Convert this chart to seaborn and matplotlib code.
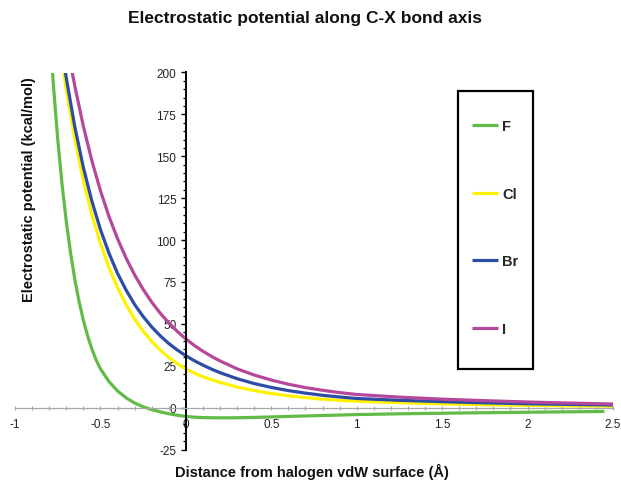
import numpy as np
import pandas as pd
import matplotlib
matplotlib.use("Agg")
import matplotlib.pyplot as plt
import matplotlib.patches as mpatches
from matplotlib.ticker import MultipleLocator, FuncFormatter
import seaborn as sns

# ---- data ----
halogens = ["F", "Cl", "Br", "I"]

x_F = [-0.79, -0.775, -0.75, -0.725, -0.7, -0.675, -0.65, -0.625, -0.6, -0.575, -0.55,
       -0.525, -0.5, -0.45, -0.4, -0.35, -0.3, -0.25, -0.2, -0.15, -0.1, -0.05, 0.0,
       0.05, 0.1, 0.15, 0.2, 0.25, 0.3, 0.4, 0.5, 0.6, 0.75, 1.0, 1.25, 1.5, 1.75,
       2.0, 2.25, 2.45]
v_F = [214, 192.2, 160.3, 133.6, 111.2, 92.4, 76.6, 63.3, 52.2, 42.9, 35.0,
       28.4, 23.2, 15.6, 10.0, 5.9, 2.8, 0.55, -1.15, -2.5, -3.6, -4.5, -5.2,
       -5.65, -5.9, -6.0, -6.05, -6.05, -6.0, -5.8, -5.5, -5.2, -4.8, -4.1, -3.65, -3.3, -3.0,
       -2.7, -2.45, -2.25]

x_Cl = [-0.72, -0.7, -0.65, -0.6, -0.55, -0.5, -0.45, -0.4, -0.35, -0.3, -0.25, -0.2,
        -0.15, -0.1, -0.05, 0.0, 0.05, 0.1, 0.15, 0.2, 0.3, 0.4, 0.5, 0.6, 0.7, 0.8,
        0.9, 1.0, 1.25, 1.5, 1.75, 2.0, 2.25, 2.5]
v_Cl = [203.6, 190.0, 160.3, 135.6, 115.1, 97.9, 83.6, 71.6, 61.5, 52.9, 45.7, 39.6,
        34.4, 30.0, 26.2, 23.0, 20.6, 18.5, 16.7, 15.1, 12.3, 10.2, 8.5, 7.1, 6.0, 5.1,
        4.4, 3.8, 3.0, 2.3, 1.75, 1.35, 1.1, 0.9]

x_Br = [-0.71, -0.7, -0.65, -0.6, -0.55, -0.5, -0.45, -0.4, -0.35, -0.3, -0.25, -0.2,
        -0.15, -0.1, -0.05, 0.0, 0.05, 0.1, 0.15, 0.2, 0.3, 0.4, 0.5, 0.6, 0.7, 0.8,
        0.9, 1.0, 1.25, 1.5, 1.75, 2.0, 2.25, 2.5]
v_Br = [203.3, 196.8, 167.6, 143.4, 123.2, 106.3, 92.2, 80.2, 70.2, 61.6, 54.4, 48.2,
        42.9, 38.3, 34.4, 31.0, 28.0, 25.4, 23.0, 20.9, 17.3, 14.4, 12.1, 10.2, 8.7, 7.4,
        6.4, 5.5, 4.4, 3.6, 2.9, 2.35, 1.95, 1.6]

x_I = [-0.67, -0.65, -0.6, -0.55, -0.5, -0.45, -0.4, -0.35, -0.3, -0.25, -0.2, -0.15,
       -0.1, -0.05, 0.0, 0.05, 0.1, 0.15, 0.2, 0.3, 0.4, 0.5, 0.6, 0.7, 0.8, 0.9, 1.0,
       1.25, 1.5, 1.75, 2.0, 2.25, 2.5]
v_I = [202.6, 192.0, 168.0, 147.3, 129.5, 114.1, 100.9, 89.3, 79.3, 70.6, 63.0, 56.4,
       50.6, 45.5, 41.0, 37.1, 33.7, 30.6, 27.9, 23.2, 19.5, 16.5, 14.0, 12.0, 10.4, 9.0, 7.9,
       6.3, 5.1, 4.2, 3.4, 2.75, 2.2]

y_ticks = [-25, 0, 25, 50, 75, 100, 125, 150, 175, 200]
x_ticks = [-1, -0.5, 0, 0.5, 1, 1.5, 2, 2.5]

title = "Electrostatic potential along C-X bond axis"
xlabel = "Distance from halogen vdW surface (Å)"
ylabel = "Electrostatic potential (kcal/mol)"

colors = {"F": "#62bb46", "Cl": "#fff200", "Br": "#2c4ca6", "I": "#b5489c"}

# ---- build long table ----
frames = []
for name, xs, vs in [("F", x_F, v_F), ("Cl", x_Cl, v_Cl), ("Br", x_Br, v_Br), ("I", x_I, v_I)]:
    frames.append(pd.DataFrame({"x": xs, "v": vs, "halogen": name}))
df = pd.concat(frames, ignore_index=True)

sns.set_theme(style="ticks")
plt.rcParams["font.family"] = ["Liberation Sans", "DejaVu Sans"]
plt.rcParams["axes.unicode_minus"] = False

W, H = 621, 481
fig = plt.figure(figsize=(W / 100, H / 100), dpi=100)
ax_left, ax_right = 15, 613
ax_top, ax_bot = 73.5, 450.6
ax = fig.add_axes([ax_left / W, 1 - ax_bot / H, (ax_right - ax_left) / W, (ax_bot - ax_top) / H])

sns.lineplot(data=df, x="x", y="v", hue="halogen", hue_order=halogens,
             palette=colors, estimator=None, sort=False, linewidth=2.3, ax=ax)
for line in ax.get_lines():
    line.set_solid_joinstyle("round")
    line.set_solid_capstyle("butt")

ax.set_xlim(-1, 2.5)
ax.set_ylim(-25, 200)

for s in ["top", "right"]:
    ax.spines[s].set_visible(False)
ax.spines["left"].set_position(("data", 0))
ax.spines["bottom"].set_position(("data", 0))
ax.spines["left"].set_color("black")
ax.spines["left"].set_linewidth(1.4)
ax.spines["bottom"].set_color("#a8a8a8")
ax.spines["bottom"].set_linewidth(0.9)

ax.set_yticks(y_ticks)
ax.yaxis.set_minor_locator(MultipleLocator(5))
ax.set_xticks(x_ticks)
ax.xaxis.set_minor_locator(MultipleLocator(0.1))
ax.xaxis.set_major_formatter(FuncFormatter(lambda v, p: f"{v:g}"))

ax.tick_params(axis="y", which="major", direction="out", length=3.6, width=1.0,
               color="black", labelsize=8.5, pad=3.2, labelcolor="#222222")
ax.tick_params(axis="y", which="minor", direction="out", length=2.2, width=0.9, color="black")
ax.tick_params(axis="x", which="major", direction="inout", length=3.5, width=0.8,
               color="#a8a8a8", labelsize=8.5, pad=6, labelcolor="#222222")
ax.tick_params(axis="x", which="minor", direction="inout", length=3.5, width=0.8, color="#a8a8a8")

ax.set_xlabel(xlabel, fontsize=10.5, fontweight="bold", color="#111111")
ax.set_ylabel(ylabel, fontsize=10.5, fontweight="bold", color="#111111")
ax.xaxis.set_label_coords((312 - ax_left) / (ax_right - ax_left), (ax_bot - 472) / (ax_bot - ax_top))
ax.xaxis.label.set_va("center")
ax.yaxis.set_label_coords((29.5 - ax_left) / (ax_right - ax_left), (ax_bot - 190) / (ax_bot - ax_top))
ax.yaxis.label.set_va("center")

fig.text(305 / W, 1 - 18 / H, title, ha="center", va="center", fontsize=12.5,
         fontweight="bold", color="#111111")

# legend
handles, labels = ax.get_legend_handles_labels()
leg = ax.legend(handles, labels, loc="upper left", frameon=False,
                bbox_to_anchor=(472 / W, 1 - 120 / H), bbox_transform=fig.transFigure,
                borderpad=0, borderaxespad=0, labelspacing=3.68, handlelength=1.8,
                handletextpad=0.25, prop={"size": 10.5, "weight": "bold"})
for line in leg.get_lines():
    line.set_linewidth(2.3)
rect = mpatches.Rectangle((458 / W, 1 - 370 / H), 75 / W, 278 / H, transform=fig.transFigure,
                          fill=False, edgecolor="black", linewidth=1.6)
fig.add_artist(rect)

fig.savefig("out.png", dpi=100, facecolor="white")
